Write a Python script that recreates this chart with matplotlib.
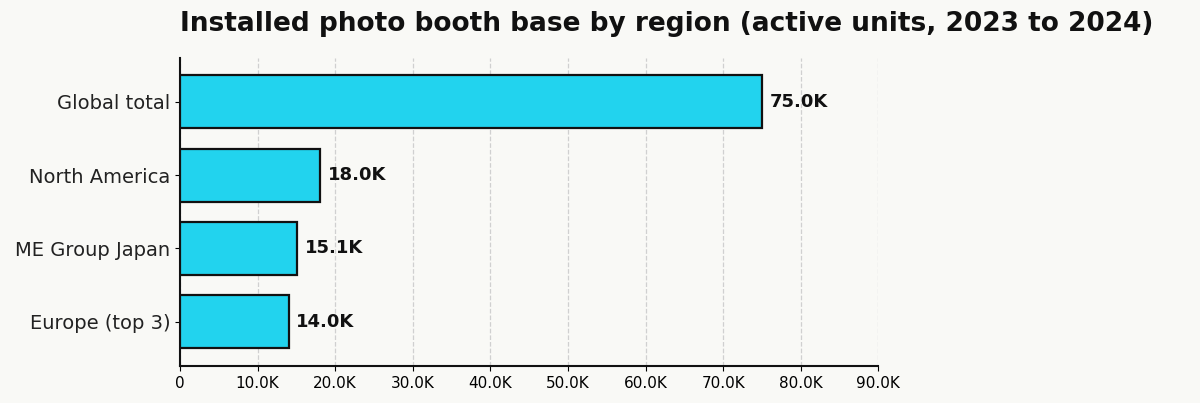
import matplotlib
matplotlib.use("Agg")
import matplotlib.pyplot as plt
from matplotlib.ticker import FuncFormatter

categories = ["Global total", "North America", "ME Group Japan", "Europe (top 3)"]
values = [75000, 18000, 15100, 14000]
labels = ["75.0K", "18.0K", "15.1K", "14.0K"]

bg = "#f9f9f6"
fig = plt.figure(figsize=(12, 4.03), dpi=100, facecolor=bg)
ax = fig.add_axes([0.15, 0.092, 0.582, 0.765], facecolor=bg)
y = list(range(len(categories)))
ax.barh(y, values, height=0.72, color="#22d3ee", edgecolor="#111111", linewidth=1.6, zorder=3)
ax.invert_yaxis()
ax.set_yticks(y)
ax.set_yticklabels(categories, fontsize=14, color="#222222")
ax.set_xlim(0, 90000)
ax.set_ylim(3.6, -0.6)
ax.set_xticks(range(0, 90001, 10000))
ax.xaxis.set_major_formatter(FuncFormatter(lambda v, p: "0" if v == 0 else f"{v/1000:.1f}K"))
ax.tick_params(axis="x", labelsize=11)
ax.grid(axis="x", linestyle="--", color="#d0d0d0", linewidth=0.9, zorder=0)
for s in ["top", "right"]:
    ax.spines[s].set_visible(False)
for s in ["left", "bottom"]:
    ax.spines[s].set_linewidth(1.5)
    ax.spines[s].set_color("#111111")
for yi, v, l in zip(y, values, labels):
    ax.text(v + 1000, yi, l, va="center", ha="left", fontsize=13, fontweight="bold", color="#111111")
fig.text(0.15, 0.94, "Installed photo booth base by region (active units, 2023 to 2024)",
         fontsize=19, fontweight="bold", color="#111111", ha="left", va="center")
fig.savefig("out.png", dpi=100, facecolor=bg)
